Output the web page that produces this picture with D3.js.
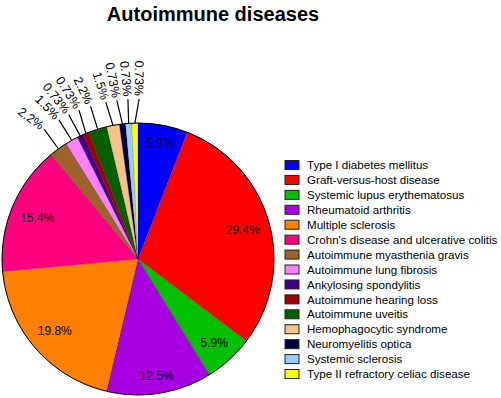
<!DOCTYPE html>
<html>
<head>
<meta charset="utf-8">
<script src="https://cdn.jsdelivr.net/npm/d3@7"></script>
<style>
  body { margin: 0; background: #fff; }
  svg { display: block; font-family: "Liberation Sans", Arial, sans-serif; }
</style>
</head>
<body>
<div class="chart"></div>
<script>
// data
var categories = [
  'Type I diabetes mellitus',
  'Graft-versus-host disease',
  'Systemic lupus erythematosus',
  'Rheumatoid arthritis',
  'Multiple sclerosis',
  "Crohn's disease and ulcerative colitis",
  'Autoimmune myasthenia gravis',
  'Autoimmune lung fibrosis',
  'Ankylosing spondylitis',
  'Autoimmune hearing loss',
  'Autoimmune uveitis',
  'Hemophagocytic syndrome',
  'Neuromyelitis optica',
  'Systemic sclerosis',
  'Type II refractory celiac disease'
];
var percents = [5.9, 29.4, 5.9, 12.5, 19.8, 15.4, 2.2, 1.5, 0.73, 0.73, 2.2, 1.5, 0.73, 0.73, 0.73];
var palette = ['#0000ff', '#ff0000', '#00c000', '#a800e0', '#ff8000', '#ff0080', '#9c6428',
  '#ff80ff', '#40008a', '#a00000', '#006000', '#f8c08a', '#000040', '#99ccff', '#ffff00'];

var width = 501, height = 398;
var cx = 138, cy = 259, R = 136;

var svg = d3.select('.chart').append('svg').attr('width', width).attr('height', height);

svg.append('text')
  .attr('x', 213).attr('y', 21)
  .attr('text-anchor', 'middle')
  .style('font-size', '20px').style('font-weight', 'bold')
  .text('Autoimmune diseases');

var color = d3.scaleOrdinal().domain(categories).range(palette);
var pie = d3.pie().sort(null).value(function(d) { return d; });
var arcs = pie(percents);
var arc = d3.arc().innerRadius(0).outerRadius(R);

var g = svg.append('g').attr('transform', 'translate(' + cx + ',' + cy + ')');

g.selectAll('path.slice')
  .data(arcs)
  .enter()
  .append('path')
  .attr('class', 'slice')
  .attr('d', arc)
  .style('fill', function(d, i) { return color(categories[i]); })
  .style('stroke', 'rgba(0,0,0,0.35)').style('stroke-width', 0.4);

g.append('circle').attr('r', R).style('fill', 'none').style('stroke', '#000').style('stroke-width', 1);

var deg = 180 / Math.PI;
function pt(r, aDeg) {
  var a = aDeg / deg;
  return [r * Math.sin(a), -r * Math.cos(a)];
}

// big slices: label inside, pulled in by its own extent
var big = arcs.filter(function(d) { return d.data >= 5; });
g.selectAll('text.inner')
  .data(big)
  .enter()
  .append('text')
  .attr('class', 'inner')
  .attr('text-anchor', 'middle').attr('dy', '0.35em')
  .style('font-size', '12px')
  .text(function(d) { return d.data + '%'; })
  .attr('transform', function(d) {
    var a = (d.startAngle + d.endAngle) / 2;
    var w = this.getComputedTextLength();
    var ext = w / 2 * Math.abs(Math.sin(a)) + 6 * Math.abs(Math.cos(a));
    var p = pt(127 - ext, a * deg);
    return 'translate(' + p + ')';
  });

// small slices: leader line + rotated label, spread out a bit
var small = arcs.filter(function(d) { return d.data < 5; }).map(function(d) {
  var m = (d.startAngle + d.endAngle) / 2 * deg;
  return { d: d, mid: m, pos: m };
});
var gap = 4;
for (var it = 0; it < 60; it++) {
  for (var i = 1; i < small.length; i++) {
    var diff = small[i].pos - small[i - 1].pos;
    if (diff < gap) {
      small[i].pos += (gap - diff) / 2;
      small[i - 1].pos -= (gap - diff) / 2;
    }
  }
}

var outer = g.selectAll('g.outer').data(small).enter().append('g').attr('class', 'outer');

outer.append('line')
  .attr('x1', function(s) { return pt(R, s.mid)[0]; })
  .attr('y1', function(s) { return pt(R, s.mid)[1]; })
  .attr('x2', function(s) { return pt(R + 24, s.pos)[0]; })
  .attr('y2', function(s) { return pt(R + 24, s.pos)[1]; })
  .style('stroke', '#000').style('stroke-width', 1.2);

outer.append('text')
  .attr('transform', function(s) {
    var p = pt(R + 27, s.pos);
    var t = 90 - 1.5 * (360 - s.pos);
    return 'translate(' + p + ') rotate(' + t + ')';
  })
  .attr('text-anchor', 'end').attr('dy', '0.35em')
  .style('font-size', '12.5px')
  .text(function(s) { return s.d.data + '%'; });

// legend
var legend = svg.append('g').attr('transform', 'translate(285,165)');
var row = d3.scalePoint().domain(categories).range([0, 14 * 14.93]);

var item = legend.selectAll('g.item')
  .data(categories)
  .enter()
  .append('g')
  .attr('class', 'item')
  .attr('transform', function(d) { return 'translate(0,' + row(d) + ')'; });

item.append('rect')
  .attr('x', 0).attr('y', -4.5).attr('width', 14).attr('height', 9)
  .style('fill', function(d) { return color(d); })
  .style('stroke', '#222').style('stroke-width', 1);

item.append('text')
  .attr('x', 22).attr('dy', '0.36em')
  .style('font-size', '11.6px')
  .text(function(d) { return d; });
</script>
</body>
</html>
